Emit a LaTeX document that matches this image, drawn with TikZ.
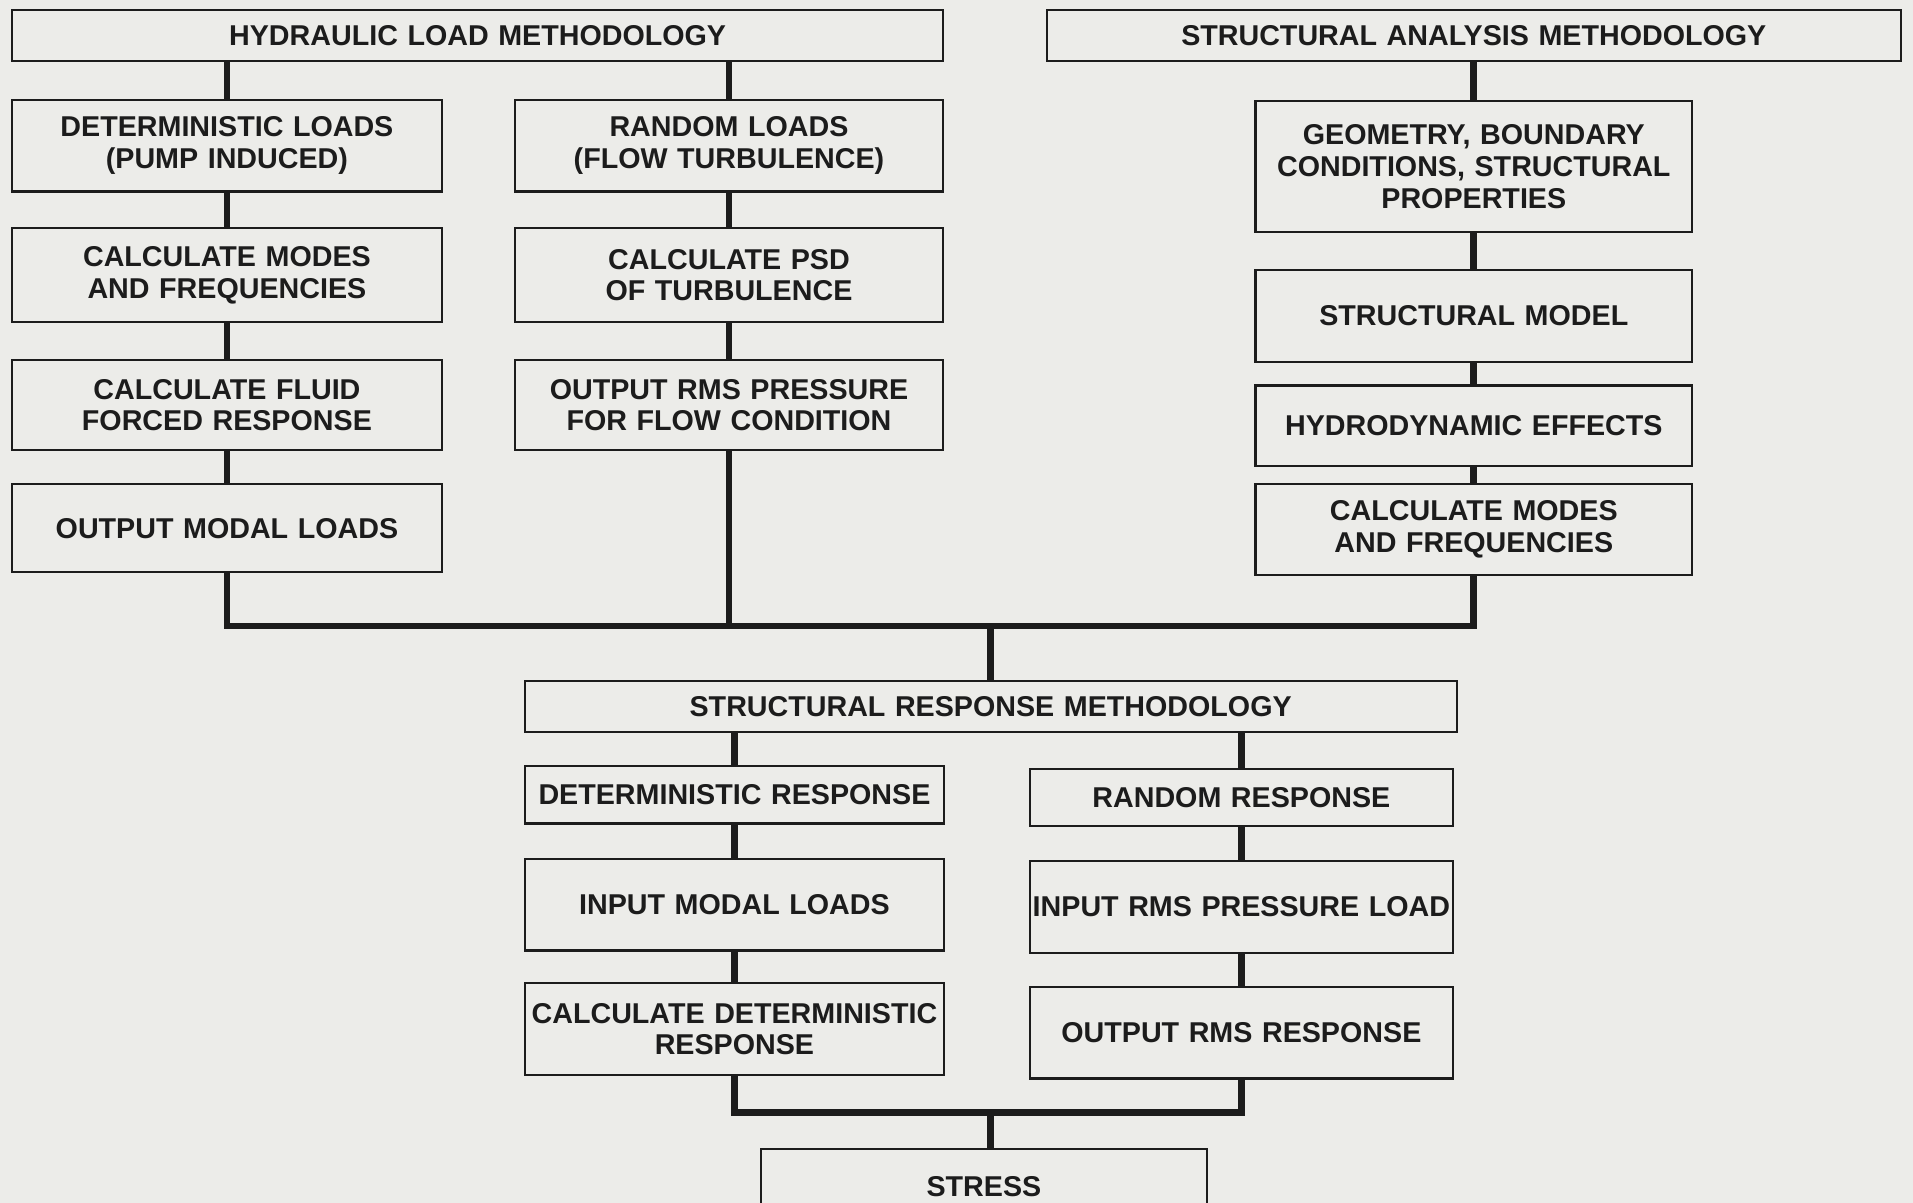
\documentclass[tikz,border=0pt]{standalone}
\usepackage{fontspec}
\setmainfont{Liberation Sans}
\usepackage{tikz}
\usetikzlibrary{positioning}
\definecolor{paper}{RGB}{236,236,233}
\definecolor{ink}{RGB}{28,28,28}

\begin{document}
\begin{tikzpicture}[x=1pt, y=1pt,
  font=\bfseries\fontsize{23.5}{26}\selectfont,
  box/.style={draw=ink, text=ink, line width=1.8pt, align=center, inner sep=0pt, outer sep=0pt},
  colA/.style={box, text width=352pt, minimum height=75pt},
  colB/.style={box, text width=351pt, minimum height=75pt},
  colC/.style={box, text width=358pt, minimum height=75pt},
  colD/.style={box, text width=344pt, minimum height=75pt},
  colE/.style={box, text width=347pt, minimum height=75pt},
  conn/.style={draw=ink, line width=5.5pt},
  node distance=30pt]
\fill[paper] (0,0) rectangle (1568,-986);
\useasboundingbox (0,0) rectangle (1568,-986);
\node[box, text width=763pt, minimum height=42pt] (hydhdr) at (391.5,-29) {HYDRAULIC LOAD METHODOLOGY};
\node[box, text width=700pt, minimum height=42pt] (strhdr) at (1208,-29) {STRUCTURAL ANALYSIS METHODOLOGY};
\node[colA, below right=32pt and 0pt of hydhdr.south west] (detload) {DETERMINISTIC LOADS\\(PUMP INDUCED)};
\node[colA, minimum height=77pt, below=of detload] (modesA) {CALCULATE MODES\\AND FREQUENCIES};
\node[colA, minimum height=74pt, below=31pt of modesA] (fluid) {CALCULATE FLUID\\FORCED RESPONSE};
\node[colA, minimum height=72pt, below=28pt of fluid] (modal) {OUTPUT MODAL LOADS};
\node[colB, below left=32pt and 0pt of hydhdr.south east] (randload) {RANDOM LOADS\\(FLOW TURBULENCE)};
\node[colB, minimum height=77pt, below=of randload] (psd) {CALCULATE PSD\\OF TURBULENCE};
\node[colB, minimum height=74pt, below=31pt of psd] (rms) {OUTPUT RMS PRESSURE\\FOR FLOW CONDITION};
\node[colC, minimum height=107pt, below=33pt of strhdr] (geom) {GEOMETRY, BOUNDARY\\CONDITIONS, STRUCTURAL\\PROPERTIES};
\node[colC, minimum height=76pt, below=31pt of geom] (model) {STRUCTURAL MODEL};
\node[colC, minimum height=66pt, below=19pt of model] (hydro) {HYDRODYNAMIC EFFECTS};
\node[colC, minimum height=74pt, below=15pt of hydro] (modesC) {CALCULATE MODES\\AND FREQUENCIES};
\coordinate (loadbus) at (812,-513);
\node[box, text width=764pt, minimum height=42pt] (resphdr) at (812,-579) {STRUCTURAL RESPONSE METHODOLOGY};
\node[colD, minimum height=47pt, below right=28pt and 0pt of resphdr.south west] (detresp) {DETERMINISTIC RESPONSE};
\node[colD, below=29pt of detresp] (inmodal) {INPUT MODAL LOADS};
\node[colD, below=27pt of inmodal] (calcdet) {CALCULATE DETERMINISTIC\\RESPONSE};
\node[colE, minimum height=47pt, below left=30pt and 3pt of resphdr.south east] (randresp) {RANDOM RESPONSE};
\node[colE, below=29pt of randresp] (inrms) {INPUT RMS PRESSURE LOAD};
\node[colE, below=28pt of inrms] (outrms) {OUTPUT RMS RESPONSE};
\coordinate (respbus) at (812,-912);
\node[box, text width=365pt, minimum height=62pt, anchor=north] (stress) at (806.5,-942) {STRESS};
\draw[conn] (hydhdr.south -| detload.north) -- (detload.north);
\draw[conn] (detload) -- (modesA); \draw[conn] (modesA) -- (fluid); \draw[conn] (fluid) -- (modal);
\draw[conn] (hydhdr.south -| randload.north) -- (randload.north);
\draw[conn] (randload) -- (psd); \draw[conn] (psd) -- (rms);
\draw[conn] (strhdr) -- (geom); \draw[conn] (geom) -- (model);
\draw[conn] (model) -- (hydro); \draw[conn] (hydro) -- (modesC);
\draw[conn] (modal.south) |- (loadbus) -| (modesC.south);
\draw[conn] (rms.south) -- (rms.south |- loadbus);
\draw[conn] (loadbus) -- (resphdr.north);
\draw[conn] (resphdr.south -| detresp.north) -- (detresp.north);
\draw[conn] (detresp) -- (inmodal); \draw[conn] (inmodal) -- (calcdet);
\draw[conn] (resphdr.south -| randresp.north) -- (randresp.north);
\draw[conn] (randresp) -- (inrms); \draw[conn] (inrms) -- (outrms);
\draw[conn] (calcdet.south) |- (respbus) -| (outrms.south);
\draw[conn] (respbus) -- (respbus |- stress.north);
\end{tikzpicture}
\end{document}
